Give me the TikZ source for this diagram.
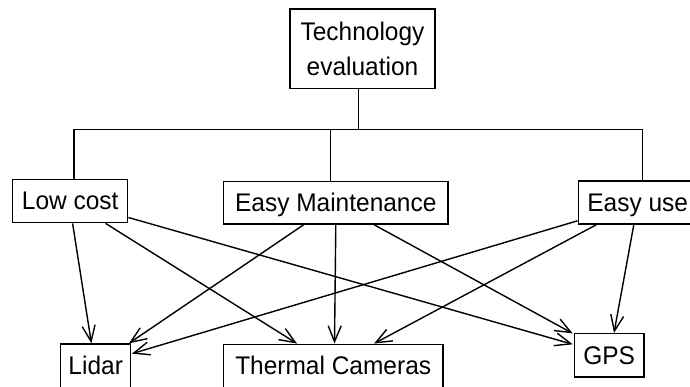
\documentclass[tikz,border=0pt]{standalone}
\usepackage{fontspec}
\setmainfont{Liberation Sans}[FakeStretch=0.96]
\usetikzlibrary{arrows.meta,calc}
\begin{document}
\begin{tikzpicture}[x=1pt,y=-1pt,
  box/.style={draw=black, line width=1.4pt, inner sep=0pt, fill=white,
    font=\fontsize{25.5}{35}\selectfont},
  one/.style={text height=18pt, text depth=0pt},
  link/.style={line width=1.4pt},
  arr/.style={line width=1.4pt, -{Straight Barb[length=16pt,width=13pt,line width=1.4pt]}}]
\useasboundingbox (0,0) rectangle (690,387);
% nodes
\node[box, minimum width=145pt, minimum height=79.3pt, align=center] (tech) at (362.5,48.65) {Technology\\evaluation};
\node[box, one, minimum width=115pt, minimum height=43.4pt] (low) at (70.2,201) {Low cost};
\node[box, one, minimum width=224.4pt, minimum height=42.3pt] (em) at (335.8,202.85) {Easy Maintenance};
\node[box, one, minimum width=119pt, minimum height=43pt] (eu) at (637.7,202.5) {Easy use};
\node[box, one, minimum width=70pt, minimum height=43.3pt] (lidar) at (95.7,365.65) {Lidar};
\node[box, one, minimum width=219.2pt, minimum height=43pt] (thermal) at (333.2,365.8) {Thermal Cameras};
\node[box, one, minimum width=69.6pt, minimum height=43.4pt] (gps) at (609.2,355.3) {GPS};
% tree bus
\coordinate (busT) at (358.3,129.3);
\coordinate (busL) at (74,129.3);
\coordinate (busM) at (330.7,129.3);
\coordinate (busR) at (642.7,129.3);
\draw[link] (busT |- tech.south) -- (busT);
\draw[link] (busL) -- (busR);
\draw[link] (busL) -- (busL |- low.north);
\draw[link] (busM) -- (busM |- em.north);
\draw[link] (busR) -- (busR |- eu.north);
% arrows from Low cost
\draw[arr] ($(low.south)+(2.4,0)$) -- ($(lidar.north)+(-4.3,0)$);
\draw[arr] ($(low.south)+(35.4,0)$) -- ($(thermal.north)+(-36.2,0)$);
\draw[arr] ($(low.east)+(0,16.5)$) -- ($(gps.west)+(-1,-11)$);
% arrows from Easy Maintenance
\draw[arr] ($(em.south)+(-32.1,0)$) -- ($(lidar.north east)+(-2.4,0)$);
\draw[arr] (em.south) -- ($(thermal.north)+(1.3,0)$);
\draw[arr] ($(em.south)+(38.2,0)$) -- ($(gps.north west)+(-1,0.5)$);
% arrows from Easy use
\draw[arr] ($(eu.west)+(0,18.3)$) -- ($(lidar.east)+(0.5,-12)$);
\draw[arr] ($(eu.south)+(-41.3,0)$) -- ($(thermal.north)+(40.8,0)$);
\draw[arr] ($(eu.south)+(-3.9,0)$) -- ($(gps.north)+(4.8,0)$);
\end{tikzpicture}
\end{document}
